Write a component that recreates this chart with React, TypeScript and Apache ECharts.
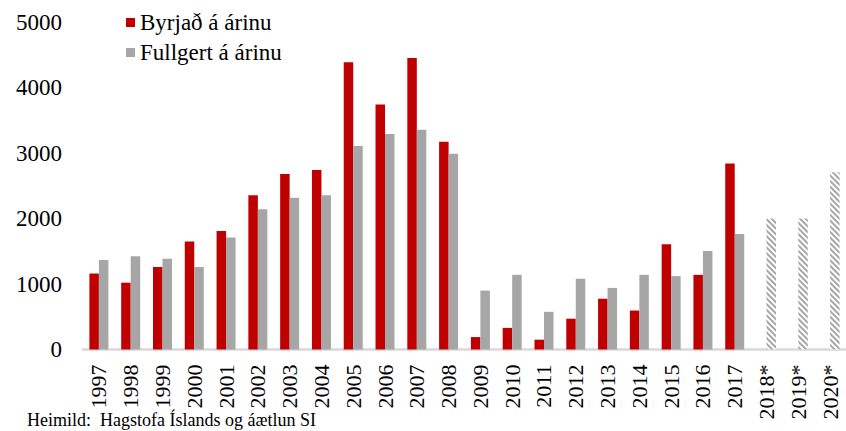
import React, { useEffect, useRef } from "react";
import * as echarts from "echarts";

const years = [
  "1997", "1998", "1999", "2000", "2001", "2002", "2003", "2004", "2005", "2006",
  "2007", "2008", "2009", "2010", "2011", "2012", "2013", "2014", "2015", "2016",
  "2017", "2018*", "2019*", "2020*",
];

const byrjad: (number | null)[] = [
  1160, 1020, 1260, 1650, 1810, 2355, 2680, 2740, 4385, 3740,
  4450, 3170, 190, 330, 150, 470, 775, 595, 1605, 1140,
  2840, null, null, null,
];

const fullgert: number[] = [
  1365, 1425, 1385, 1260, 1710, 2140, 2315, 2355, 3105, 3290,
  3355, 2990, 900, 1140, 575, 1080, 940, 1140, 1120, 1505,
  1765, 2000, 2000, 2705,
];

const yTicks = { min: 0, max: 5000, interval: 1000 };

const seriesNames = ["Byrjað á árinu", "Fullgert á árinu"];
const sourceText = "Heimild:  Hagstofa Íslands og áætlun SI";

const RED = "#c00000";
const GRAY = "#a6a6a6";
const FONT = "'Liberation Serif', 'Times New Roman', serif";

export default function App() {
  const ref = useRef<HTMLDivElement>(null);

  useEffect(() => {
    if (!ref.current) return;
    const chart = echarts.init(ref.current, null, { renderer: "svg" });

    const fullgertData = fullgert.map((v, i) =>
      years[i].endsWith("*")
        ? {
            value: v,
            itemStyle: {
              color: "#ffffff",
              decal: {
                symbol: "rect",
                symbolSize: 1,
                color: GRAY,
                backgroundColor: "#ffffff",
                dashArrayX: [1, 0],
                dashArrayY: [2, 2],
                rotation: Math.PI / 4,
              },
            },
          }
        : v
    );

    chart.setOption({
      animation: false,
      backgroundColor: "#ffffff",
      textStyle: { fontFamily: FONT },
      legend: {
        orient: "vertical",
        left: 121,
        top: 6,
        icon: "rect",
        itemWidth: 9,
        itemHeight: 9,
        itemGap: 7,
        textStyle: {
          fontFamily: FONT,
          fontSize: 23,
          lineHeight: 23,
          color: "#000",
          padding: [0, 0, 0, 0],
        },
        data: seriesNames,
      },
      grid: {
        left: 83,
        top: 22,
        width: 773,
        height: 327.5,
        containLabel: false,
      },
      xAxis: {
        type: "category",
        data: years,
        axisLine: { show: true, lineStyle: { color: "#d9d9d9", width: 2.5 } },
        axisTick: { show: false },
        axisLabel: {
          interval: 0,
          rotate: 90,
          margin: 15,
          fontFamily: FONT,
          fontSize: 22,
          color: "#000",
        },
      },
      yAxis: {
        type: "value",
        min: yTicks.min,
        max: yTicks.max,
        interval: yTicks.interval,
        axisLine: { show: false },
        axisTick: { show: false },
        splitLine: { show: false },
        axisLabel: {
          margin: 21,
          fontFamily: FONT,
          fontSize: 23,
          color: "#000",
          formatter: (v: number) => String(v),
        },
      },
      series: [
        {
          name: seriesNames[0],
          type: "bar",
          data: byrjad,
          barWidth: 9.5,
          barGap: "0%",
          itemStyle: { color: RED },
        },
        {
          name: seriesNames[1],
          type: "bar",
          data: fullgertData,
          barWidth: 9.5,
          barGap: "0%",
          itemStyle: { color: GRAY },
        },
      ],
      graphic: [
        {
          type: "text",
          left: 27,
          top: 411,
          style: {
            text: sourceText,
            font: `18px ${FONT}`,
            fill: "#000",
          },
        },
      ],
    });

    return () => chart.dispose();
  }, []);

  return (
    <div
      ref={ref}
      style={{ position: "fixed", left: 0, top: 0, width: 846, height: 431 }}
    />
  );
}
